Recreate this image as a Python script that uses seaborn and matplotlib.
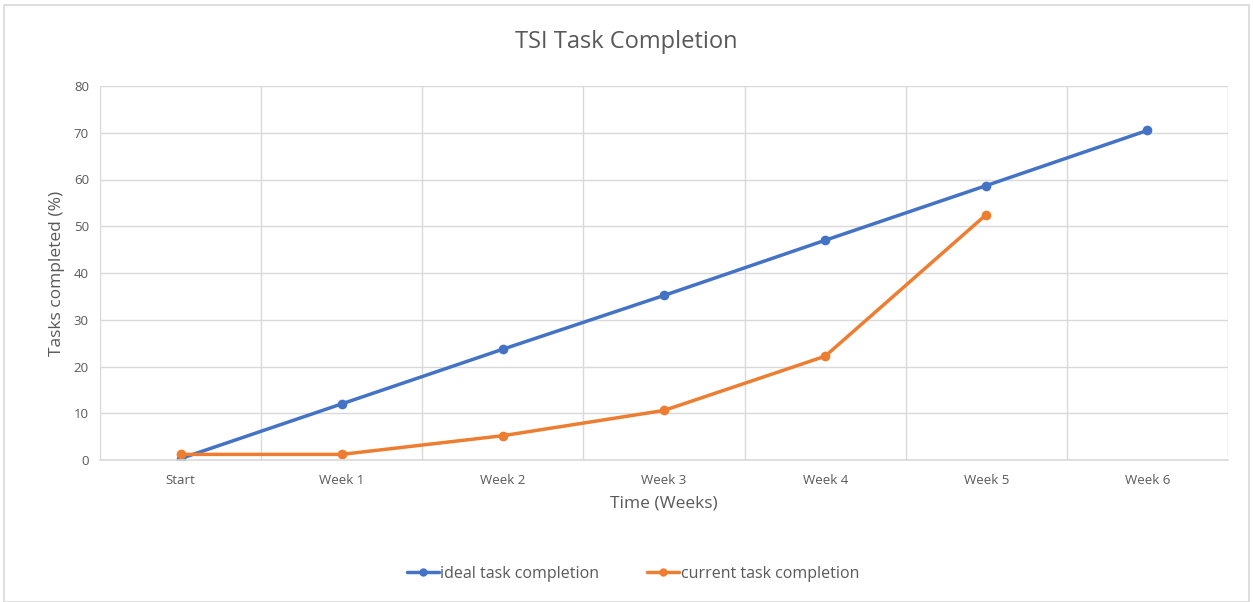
import numpy as np
import pandas as pd
import matplotlib
matplotlib.use("Agg")
import matplotlib.pyplot as plt
from matplotlib.patches import Rectangle
from matplotlib.lines import Line2D
import seaborn as sns

categories = ["Start", "Week 1", "Week 2", "Week 3", "Week 4", "Week 5", "Week 6"]
ideal = [0.3, 12.0, 23.7, 35.2, 47.0, 58.7, 70.5]
current = [1.2, 1.2, 5.2, 10.6, 22.2, 52.5, np.nan]
series_names = ["ideal task completion", "current task completion"]
colors = ["#4472C4", "#ED7D31"]

df = pd.DataFrame({
    "Time": categories * 2,
    "Value": ideal + current,
    "Series": [series_names[0]] * len(categories) + [series_names[1]] * len(categories),
})
df["x"] = df["Time"].map({c: i for i, c in enumerate(categories)})

sns.set_style("white")
plt.rcParams["font.family"] = ["Open Sans", "DejaVu Sans"]
text_color = "#595959"
grid_color = "#D9D9D9"

fig = plt.figure(figsize=(12.53, 6.02), dpi=100)
ax = fig.add_axes([100 / 1253, 1 - 460 / 602, 1128 / 1253, 374 / 602])

sns.lineplot(data=df.dropna(), x="x", y="Value", hue="Series", hue_order=series_names,
             palette=colors, marker="o", markersize=7, markeredgewidth=0,
             linewidth=2.5, ax=ax, legend=False, sort=False)

ax.set_xlim(-0.5, len(categories) - 0.5)
ax.set_ylim(0, 80)
ax.set_yticks(range(0, 81, 10))
ax.set_xticks(range(len(categories)))
ax.set_xticklabels(categories)
ax.set_xticks(np.arange(-0.5, len(categories), 1.0), minor=True)
ax.grid(False)
ax.yaxis.grid(True, which="major", color=grid_color, linewidth=1)
ax.xaxis.grid(True, which="minor", color=grid_color, linewidth=1)
ax.set_axisbelow(True)
for s in ["top", "right", "left"]:
    ax.spines[s].set_visible(False)
ax.spines["bottom"].set_color(grid_color)
ax.spines["bottom"].set_linewidth(1.2)
ax.tick_params(axis="both", which="both", length=0, colors=text_color, labelsize=9.5, pad=8)
ax.tick_params(axis="x", pad=10)
ax.set_xlabel("Time (Weeks)", color=text_color, fontsize=12.5, labelpad=6)
ax.set_ylabel("Tasks completed (%)", color=text_color, fontsize=12.5, labelpad=6)

fig.suptitle("TSI Task Completion", x=0.5, y=1 - 42 / 602, va="center", fontsize=17, color=text_color)

handles = [Line2D([0], [0], color=c, lw=2.5, marker="o", markersize=6, markeredgewidth=0) for c in colors]
fig.legend(handles, series_names, loc="center", bbox_to_anchor=(0.505, 1 - 574 / 602), ncol=2,
           frameon=False, fontsize=11.5, labelcolor=text_color, handlelength=2.0, handletextpad=0.1,
           columnspacing=3.0)

fig.patches.append(Rectangle((4 / 1253, 0.0), 1245 / 1253, 1 - 5 / 602, transform=fig.transFigure,
                             fill=False, edgecolor="#D9D9D9", linewidth=1.2))

fig.savefig("out.png", dpi=100)
